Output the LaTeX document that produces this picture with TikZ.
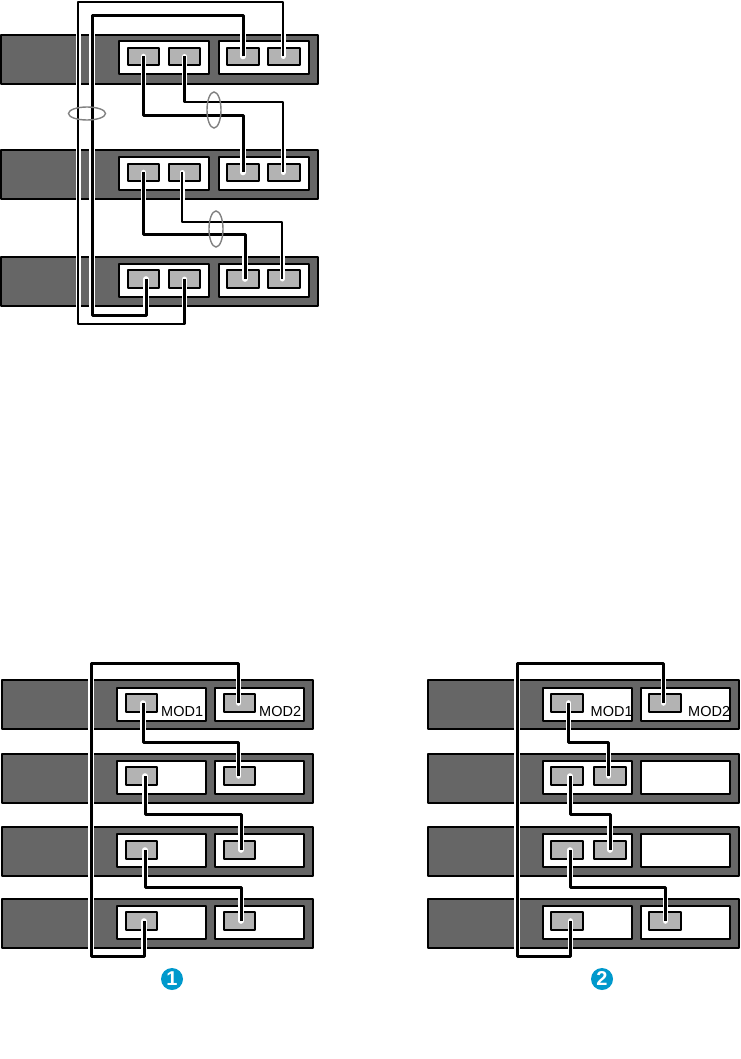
\documentclass[tikz,border=0pt]{standalone}
\usepackage{fontspec}
\setmainfont{Liberation Sans}
\definecolor{chassisgray}{HTML}{666666}
\definecolor{portgray}{HTML}{B3B3B3}
\definecolor{ringgray}{HTML}{808080}
\definecolor{badgeblue}{HTML}{0099CC}
\tikzset{
    box/.style={draw, rectangle, inner sep=0pt, outer sep=0pt, line join=round},
    chassis/.style={box, fill=chassisgray, line width=2pt, minimum width=317pt, minimum height=49pt},
    widechassis/.style={box, fill=chassisgray, line width=2pt, minimum width=311pt, minimum height=49pt},
    card/.style={box, fill=white, line width=2pt, minimum width=90pt, minimum height=33pt},
    lowcard/.style={card, minimum width=89pt},
    port/.style={box, fill=portgray, line width=1.9pt, minimum width=31.5pt, minimum height=17.5pt},
    thincable/.style={line width=2.6pt, line join=round, preaction={draw, white, line width=5pt, line cap=round}},
    thickcable/.style={line width=3pt, line join=round, preaction={draw, white, line width=5.6pt, line cap=round}},
    ring/.style={draw=ringgray, line width=1.4pt, ellipse, inner sep=0pt, minimum width=14pt, minimum height=36pt},
    flatring/.style={ring, minimum width=37pt, minimum height=13pt},
    modlabel/.style={anchor=base west, inner sep=0pt, font=\fontsize{14.5pt}{15pt}\selectfont},
    badge/.style={circle, fill=badgeblue, text=white, inner sep=0pt, minimum size=22pt, font=\fontsize{20pt}{20pt}\selectfont\bfseries}
}
\usetikzlibrary{shapes.geometric}
\begin{document}
\begin{tikzpicture}[x=1pt,y=-1pt]
        \useasboundingbox (0, 0) rectangle (740, 1059);
        \node[chassis] (t1) at (159.5, 59.5) {};
        \node[card] (t1a) at (164, 57.5) {};
        \node[card] (t1b) at (264, 57.5) {};
        \node[port] (t1p1) at (143.5, 56.5) {};
        \node[port] (t1p2) at (184.5, 56.5) {};
        \node[port] (t1p3) at (243, 56.5) {};
        \node[port] (t1p4) at (284, 56.5) {};
        \node[chassis] (t2) at (159.5, 175) {};
        \node[card] (t2a) at (164, 173.5) {};
        \node[card] (t2b) at (264, 173.5) {};
        \node[port] (t2p1) at (143.5, 172.5) {};
        \node[port] (t2p2) at (184.5, 172.5) {};
        \node[port] (t2p3) at (243, 172.5) {};
        \node[port] (t2p4) at (284, 172.5) {};
        \node[chassis] (t3) at (159.5, 281.5) {};
        \node[card] (t3a) at (164, 280) {};
        \node[card] (t3b) at (264, 280) {};
        \node[port] (t3p1) at (143.5, 279) {};
        \node[port] (t3p2) at (184.5, 279) {};
        \node[port] (t3p3) at (243, 279) {};
        \node[port] (t3p4) at (284, 279) {};
        \coordinate (topa) at (78, 2);
        \coordinate (topb) at (78, 324);
        \coordinate (topc) at (92, 16);
        \coordinate (topd) at (92, 315);
        \coordinate (tope) at (214, 102);
        \coordinate (topf) at (214, 116);
        \coordinate (topg) at (216, 222);
        \coordinate (toph) at (216, 235);
        \draw[thincable] ([xshift=-1pt]t1p4.center) |- (topa) -- (topb) -| (t3p2.center);
        \draw[thickcable] (t1p3.center) |- (topc) -- (topd) -| ([xshift=2.5pt]t3p1.center);
        \draw[thincable] (t1p2.center) |- (tope) -| ([xshift=-1pt]t2p4.center);
        \draw[thickcable] (t1p1.center) |- (topf) -| (t2p3.center);
        \draw[thincable] ([xshift=-2.5pt]t2p2.center) |- (topg) -| ([xshift=-2pt]t3p4.center);
        \draw[thickcable] (t2p1.center) |- (toph) -| ([xshift=2pt]t3p3.center);
        \node[flatring] (ringa) at (87, 113.5) {};
        \node[ring] (ringb) at (214, 110) {};
        \node[ring] (ringc) at (216, 229) {};

        \node[widechassis] (l1) at (157.5, 704.5) {};
        \node[lowcard] (l1a) at (161.5, 704) {};
        \node[lowcard] (l1b) at (259.5, 704) {};
        \node[port] (l1p1) at (141.5, 703) {};
        \node[port] (l1p2) at (239.5, 703) {};
        \node[widechassis] (l2) at (157.5, 778.5) {};
        \node[lowcard] (l2a) at (161.5, 777.5) {};
        \node[lowcard] (l2b) at (259.5, 777.5) {};
        \node[port] (l2p1) at (141.5, 776) {};
        \node[port] (l2p2) at (239.5, 776) {};
        \node[widechassis] (l3) at (157.5, 851.5) {};
        \node[lowcard] (l3a) at (161.5, 850.5) {};
        \node[lowcard] (l3b) at (259.5, 850.5) {};
        \node[port] (l3p1) at (141.5, 850) {};
        \node[port] (l3p2) at (239.5, 850) {};
        \node[widechassis] (l4) at (157.5, 923.5) {};
        \node[lowcard] (l4a) at (161.5, 922) {};
        \node[lowcard] (l4b) at (259.5, 922) {};
        \node[port] (l4p1) at (141.5, 921) {};
        \node[port] (l4p2) at (239.5, 921) {};
        \node[modlabel] (lmoda) at (161, 716.5) {MOD1};
        \node[modlabel] (lmodb) at (259, 716.5) {MOD2};
        \coordinate (lefta) at (91, 663);
        \coordinate (leftb) at (91, 956);
        \coordinate (leftc) at (190, 742);
        \coordinate (leftd) at (190, 814);
        \coordinate (lefte) at (190, 887);
        \draw[thickcable] ([xshift=-1pt]l1p2.center) |- (lefta) -- (leftb) -| ([xshift=2.5pt]l4p1.center);
        \draw[thickcable] ([xshift=1.5pt]l1p1.center) |- (leftc) -| ([xshift=-1pt]l2p2.center);
        \draw[thickcable] ([xshift=3.5pt]l2p1.center) |- (leftd) -| ([xshift=1.5pt]l3p2.center);
        \draw[thickcable] ([xshift=3.5pt]l3p1.center) |- (lefte) -| ([xshift=1.5pt]l4p2.center);
        \node[badge] (badgea) at (172, 979) {1};

        \node[widechassis] (r1) at (583, 704.5) {};
        \node[lowcard] (r1a) at (587.5, 704) {};
        \node[lowcard] (r1b) at (685.5, 704) {};
        \node[port] (r1p1) at (567, 703) {};
        \node[port] (r1p2) at (665, 703) {};
        \node[widechassis] (r2) at (583, 778.5) {};
        \node[lowcard] (r2a) at (587.5, 777.5) {};
        \node[lowcard] (r2b) at (685.5, 777.5) {};
        \node[port] (r2p1) at (567, 776) {};
        \node[port] (r2p2) at (610, 776) {};
        \node[widechassis] (r3) at (583, 851.5) {};
        \node[lowcard] (r3a) at (587.5, 850.5) {};
        \node[lowcard] (r3b) at (685.5, 850.5) {};
        \node[port] (r3p1) at (567, 850) {};
        \node[port] (r3p2) at (610, 850) {};
        \node[widechassis] (r4) at (583, 923.5) {};
        \node[lowcard] (r4a) at (587.5, 922) {};
        \node[lowcard] (r4b) at (685.5, 922) {};
        \node[port] (r4p1) at (567, 921) {};
        \node[port] (r4p2) at (665, 921) {};
        \node[modlabel] (rmoda) at (590.5, 716.5) {MOD1};
        \node[modlabel] (rmodb) at (688, 716.5) {MOD2};
        \coordinate (righta) at (517, 663);
        \coordinate (rightb) at (517, 956);
        \coordinate (rightc) at (590, 742);
        \coordinate (rightd) at (590, 814);
        \coordinate (righte) at (620, 887);
        \draw[thickcable] ([xshift=-1.5pt]r1p2.center) |- (righta) -- (rightb) -| ([xshift=3.5pt]r4p1.center);
        \draw[thickcable] ([xshift=1.5pt]r1p1.center) |- (rightc) -| ([xshift=-1.5pt]r2p2.center);
        \draw[thickcable] ([xshift=3pt]r2p1.center) |- (rightd) -| (r3p2.center);
        \draw[thickcable] ([xshift=3pt]r3p1.center) |- (righte) -| ([xshift=.5pt]r4p2.center);
        \node[badge] (badgeb) at (602, 979) {2};
    \end{tikzpicture}
\end{document}
